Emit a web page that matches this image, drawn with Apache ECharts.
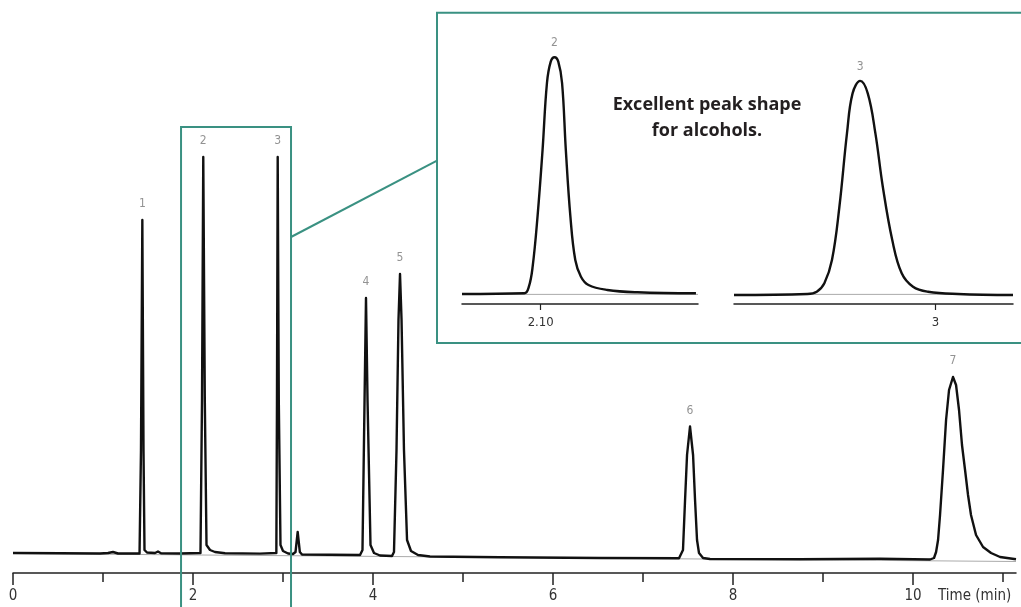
<!DOCTYPE html>
<html><head><meta charset="utf-8">
<script src="https://cdn.jsdelivr.net/npm/echarts@6/dist/echarts.min.js"></script>
<style>html,body{margin:0;padding:0;background:#fff}#c{width:1021px;height:607px}</style>
</head><body><div id="c"></div>
<script>
// ---- main chromatogram (time in min, signal in arbitrary units) ----
const mainTime = [0,0.522,0.967,1.056,1.111,1.167,1.406,1.422,1.437,1.450,1.461,1.489,1.578,1.611,1.644,1.856,
  2.083,2.100,2.114,2.131,2.150,2.189,2.244,2.356,2.744,2.926,2.933,2.941,2.953,2.972,3.0,3.056,3.111,3.139,3.163,3.187,3.211,
  3.522,3.856,3.883,3.906,3.922,3.939,3.972,4.011,4.078,4.211,4.233,4.261,4.283,4.300,4.317,4.344,4.378,4.422,4.500,4.633,
  5.411,6.522,7.400,7.422,7.444,7.467,7.489,7.522,7.556,7.578,7.600,7.622,7.667,7.744,8.744,9.633,
  10.189,10.233,10.256,10.278,10.300,10.333,10.367,10.400,10.444,10.478,10.511,10.544,10.578,10.611,10.644,10.700,10.778,10.867,10.967,11.144];
const mainSignal = [4.0,3.94,3.9,4.0,4.2,3.9,3.9,24.6,70.6,24.6,4.6,4.1,4.0,4.3,3.96,3.9,
  4.0,34.6,83.2,34.6,5.6,4.6,4.2,3.94,3.88,4.0,34.6,83.2,34.6,5.6,4.4,3.9,3.8,4.2,8.2,4.2,3.7,
  3.64,3.6,4.6,34.6,55.0,34.6,5.6,4.0,3.5,3.4,4.2,24.6,50.6,59.8,50.6,24.6,6.6,4.4,3.6,3.3,
  3.14,3.0,2.94,3.3,4.6,14.6,23.6,29.3,23.6,14.6,6.6,4.0,3.0,2.8,2.76,2.84,
  2.7,3.0,4.2,6.6,11.6,20.6,30.6,36.6,39.2,37.6,32.6,25.6,20.6,15.6,11.6,7.6,5.2,4.0,3.2,2.74];
const baselineTime = [0, 11.144];
const baselineSignal = [3.9, 2.3];
const peakNames = ['1','2','3','4','5','6','7'];
const peakTime = [1.437, 2.114, 2.941, 3.922, 4.300, 7.522, 10.444];
const peakSignal = [70.6, 83.2, 83.2, 55.0, 59.8, 29.3, 39.2];
const mainMajorTicks = [0,2,4,6,8,10];
const mainMinorTicks = [1,3,5,7,9,11];
const zoomWindow = [1.867, 3.089];

// ---- inset: enlarged peaks 2 and 3 ----
const insetLeftTime = [2.0500,2.0896,2.0925,2.0949,2.0980,2.1012,2.1040,2.1064,2.1088,2.1112,2.1136,2.1160,2.1189,2.1220,2.1256,2.1304,2.1424,2.1615,2.1987];
const insetLeftSignal = [3.85,4.12,6.65,14.35,33.6,59.2,85.0,93.2,94.9,93.2,85.0,59.2,33.6,16.9,10.5,7.3,5.4,4.5,4.12];
const insetRightTime = [2.8700,2.9174,2.9234,2.9283,2.9332,2.9380,2.9429,2.9465,2.9514,2.9563,2.9612,2.9660,2.9721,2.9782,2.9855,2.9952,3.0145,3.0500];
const insetRightSignal = [3.46,3.85,4.73,7.96,16.9,37.4,65.7,81.0,85.8,81.0,65.7,45.1,24.6,11.8,6.65,4.73,3.85,3.46];
const insetPeakNames = ['2','3'];
const insetPeakTime = [2.1088, 2.9514];
const insetPeakSignal = [94.9, 85.8];
const insetLeftTicks = [2.10];
const insetRightTicks = [3];
const insetBaseline = 3.7;

const teal = '#3a9182';
const numFont = '"DejaVu Sans Condensed","Liberation Sans Narrow","DejaVu Sans",sans-serif';
const zip = (a, b) => a.map((v, i) => [v, b[i]]);

const chart = echarts.init(document.getElementById('c'));
const noSplit = {show:false};
chart.setOption({
  animation:false,
  grid:[
    {left:13, right:5, top:53, bottom:34},
    {left:462, width:236, top:44, height:260},
    {left:734, width:279, top:44, height:260}
  ],
  xAxis:[
    {gridIndex:0, type:'value', min:0, max:11.144, splitLine:noSplit,
     axisLine:{lineStyle:{color:'#222', width:1.5}},
     axisTick:{customValues:mainMajorTicks, length:12, lineStyle:{color:'#222', width:1.5}},
     axisLabel:{customValues:mainMajorTicks, color:'#333', fontSize:15, margin:16, fontFamily:numFont}},
    {gridIndex:0, type:'value', min:0, max:11.144, position:'bottom', splitLine:noSplit,
     axisLine:{show:false},
     axisTick:{customValues:mainMinorTicks, length:9, lineStyle:{color:'#222', width:1.5}},
     axisLabel:{show:false}},
    {gridIndex:1, type:'value', min:2.05, max:2.20, splitLine:noSplit,
     axisLine:{lineStyle:{color:'#222', width:1.5}},
     axisTick:{customValues:insetLeftTicks, length:6, lineStyle:{color:'#222', width:1.2}},
     axisLabel:{customValues:insetLeftTicks, formatter:v=>Number(v).toFixed(2), color:'#333', fontSize:13, margin:12, fontFamily:numFont}},
    {gridIndex:2, type:'value', min:2.87, max:3.05, splitLine:noSplit,
     axisLine:{lineStyle:{color:'#222', width:1.5}},
     axisTick:{customValues:insetRightTicks, length:6, lineStyle:{color:'#222', width:1.2}},
     axisLabel:{customValues:insetRightTicks, formatter:v=>String(Math.round(v)), color:'#333', fontSize:13, margin:12, fontFamily:numFont}}
  ],
  yAxis:[
    {gridIndex:0, type:'value', min:0, max:104, show:false},
    {gridIndex:1, type:'value', min:0, max:100, show:false},
    {gridIndex:2, type:'value', min:0, max:100, show:false}
  ],
  series:[
    {type:'line', xAxisIndex:0, yAxisIndex:0, data:zip(baselineTime, baselineSignal), symbol:'none', lineStyle:{color:'#aaa', width:1}, z:1},
    {type:'line', xAxisIndex:0, yAxisIndex:0, data:zip(mainTime, mainSignal), symbol:'none', showSymbol:false, smooth:false,
     lineStyle:{color:'#111', width:2.4, join:'round'}, z:2},
    {type:'scatter', xAxisIndex:0, yAxisIndex:0, data:zip(peakTime, peakSignal), symbolSize:0, silent:true,
     label:{show:true, position:'top', distance:10, formatter:p=>peakNames[p.dataIndex], color:'#777', fontSize:12, fontFamily:numFont}},
    {type:'line', xAxisIndex:2, yAxisIndex:1, data:[[2.05, insetBaseline],[2.20, insetBaseline]], symbol:'none', lineStyle:{color:'#aaa', width:1}, z:1},
    {type:'line', xAxisIndex:2, yAxisIndex:1, data:zip(insetLeftTime, insetLeftSignal), symbol:'none', showSymbol:false, smooth:0.4,
     lineStyle:{color:'#111', width:2.4, join:'round'}, z:2},
    {type:'scatter', xAxisIndex:2, yAxisIndex:1, data:zip(insetPeakTime.slice(0,1), insetPeakSignal.slice(0,1)), symbolSize:0, silent:true,
     label:{show:true, position:'top', distance:8, formatter:()=>insetPeakNames[0], color:'#777', fontSize:12, fontFamily:numFont}},
    {type:'line', xAxisIndex:3, yAxisIndex:2, data:[[2.87, insetBaseline],[3.05, insetBaseline]], symbol:'none', lineStyle:{color:'#aaa', width:1}, z:1},
    {type:'line', xAxisIndex:3, yAxisIndex:2, data:zip(insetRightTime, insetRightSignal), symbol:'none', showSymbol:false, smooth:0.4,
     lineStyle:{color:'#111', width:2.4, join:'round'}, z:2},
    {type:'scatter', xAxisIndex:3, yAxisIndex:2, data:zip(insetPeakTime.slice(1), insetPeakSignal.slice(1)), symbolSize:0, silent:true,
     label:{show:true, position:'top', distance:8, formatter:()=>insetPeakNames[1], color:'#777', fontSize:12, fontFamily:numFont}}
  ]
});

const pA = chart.convertToPixel({gridIndex:0}, [zoomWindow[0], 89.2]);
const pB = chart.convertToPixel({gridIndex:0}, [zoomWindow[1], 67.2]);
const boldFont = 'bold 18px "Open Sans", "Noto Sans", sans-serif';
chart.setOption({
  graphic:[
    {type:'rect', shape:{x:pA[0], y:pA[1], width:pB[0]-pA[0], height:620-pA[1]}, style:{fill:'none', stroke:teal, lineWidth:2}, z:10},
    {type:'line', shape:{x1:pB[0], y1:pB[1], x2:437, y2:160.7}, style:{stroke:teal, lineWidth:2}, z:10},
    {type:'rect', shape:{x:437, y:12.7, width:620, height:330.3}, style:{fill:'none', stroke:teal, lineWidth:2}, z:10},
    {type:'text', x:707, y:105, style:{text:'Excellent peak shape', fill:'#231f20', font:boldFont, textAlign:'center', textVerticalAlign:'middle'}, z:11},
    {type:'text', x:707, y:131, style:{text:'for alcohols.', fill:'#231f20', font:boldFont, textAlign:'center', textVerticalAlign:'middle'}, z:11},
    {type:'text', x:938, y:596, style:{text:'Time (min)', fill:'#333', font:'15px ' + numFont, textAlign:'left', textVerticalAlign:'middle'}, z:11}
  ]
});
</script></body></html>
